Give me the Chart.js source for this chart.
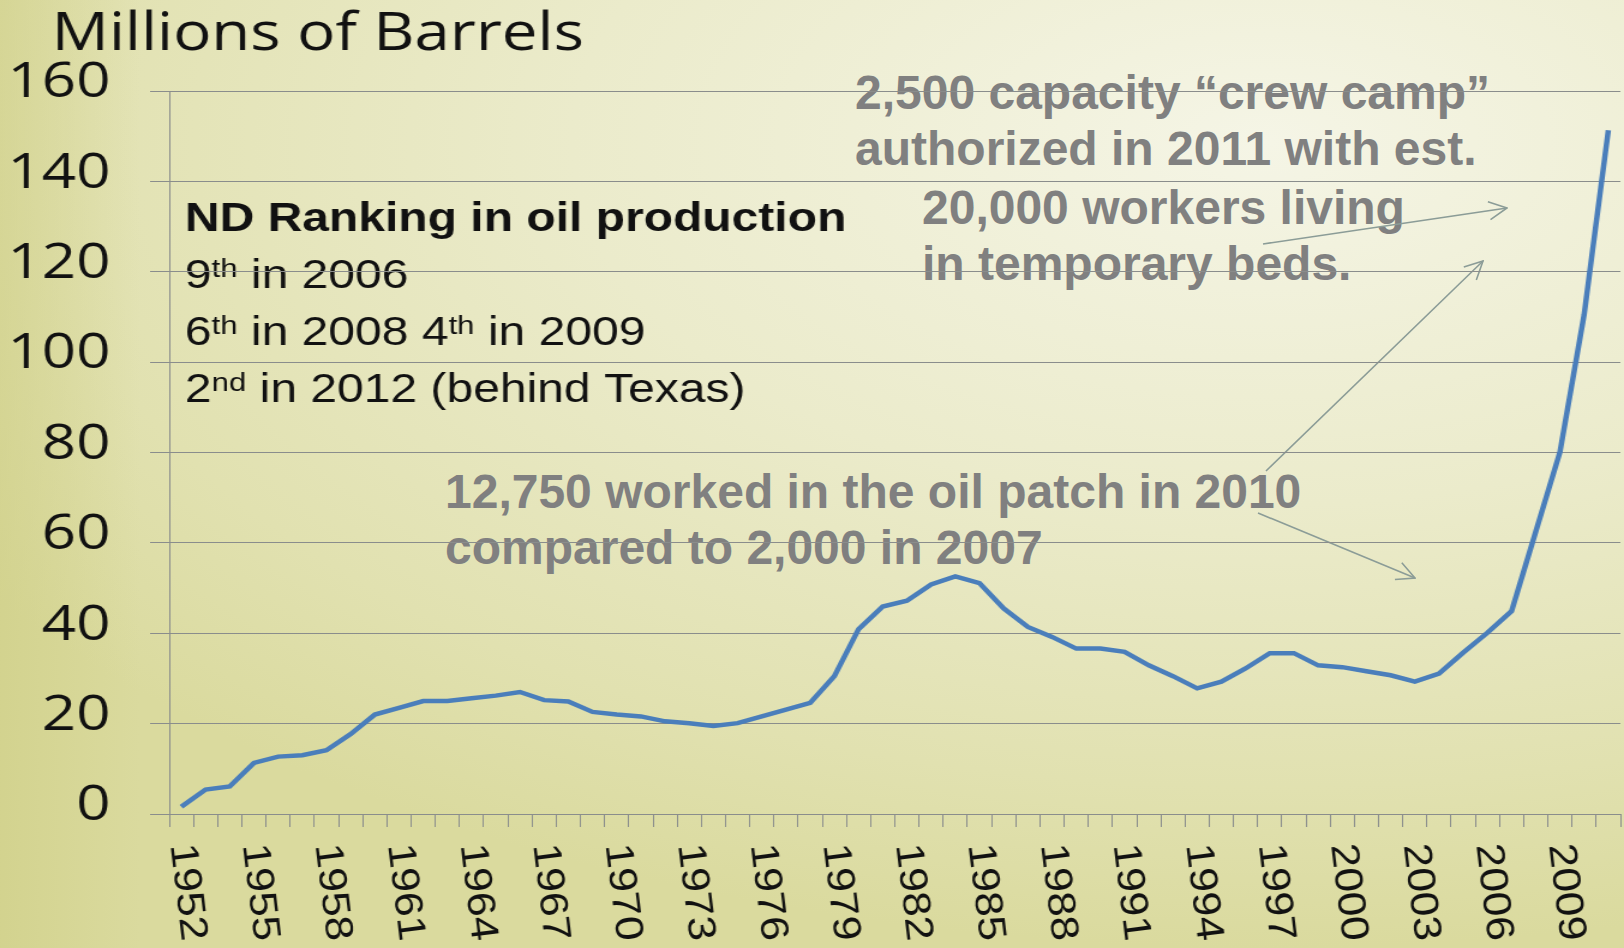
<!DOCTYPE html>
<html>
<head>
<meta charset="utf-8">
<script src="https://cdn.jsdelivr.net/npm/chart.js@4.4.1/dist/chart.umd.min.js"></script>
<style>
  html, body { margin: 0; padding: 0; }
  body {
    width: 1624px; height: 948px; overflow: hidden; position: relative;
    background:
      linear-gradient(to right, rgba(205,205,130,0.55) 0px, rgba(205,205,130,0) 140px),
      radial-gradient(ellipse 95% 85% at 78% 15%, #f5f5e6 0%, #ebebcb 45%, #e1e1b0 80%, #dada9e 100%);
  }
  .note {
    position: absolute; white-space: nowrap; z-index: 0;
    font: bold 48px "Liberation Sans", Arial, sans-serif;
    line-height: 56px; color: #808080;
  }
  #arrows { position: absolute; left: 0; top: 0; z-index: 0; }
  #wrap {
    position: absolute; left: 0; top: 0; z-index: 1;
    width: 1353px; height: 948px;
    transform: scaleX(1.2003); transform-origin: 0 0;
  }
</style>
</head>
<body>

<div class="note" style="left:855px; top:65px;">2,500 capacity “crew camp”<br>authorized in 2011 with est.</div>
<div class="note" style="left:922px; top:180px;">20,000 workers living<br>in temporary beds.</div>
<div class="note" style="left:445px; top:464px;">12,750 worked in the oil patch in 2010<br>compared to 2,000 in 2007</div>

<svg id="arrows" width="1624" height="948">
  <defs>
    <marker id="ah" viewBox="0 0 20 20" refX="19" refY="10" markerWidth="20" markerHeight="20"
            markerUnits="userSpaceOnUse" orient="auto">
      <path d="M1,1 L19,10 L1,19" fill="none" stroke="#8b9c97" stroke-width="1.6"/>
    </marker>
  </defs>
  <g stroke="#8b9c97" stroke-width="1.6" fill="none" marker-end="url(#ah)">
    <line x1="1263" y1="244" x2="1507" y2="208"/>
    <line x1="1266" y1="471" x2="1483" y2="261"/>
    <line x1="1258" y1="513" x2="1415" y2="578"/>
  </g>
</svg>

<div id="wrap"><canvas id="chart"></canvas></div>

<script>
// ND crude oil production, millions of barrels
const years = [
  1952, 1953, 1954, 1955, 1956, 1957, 1958, 1959, 1960, 1961,
  1962, 1963, 1964, 1965, 1966, 1967, 1968, 1969, 1970, 1971,
  1972, 1973, 1974, 1975, 1976, 1977, 1978, 1979, 1980, 1981,
  1982, 1983, 1984, 1985, 1986, 1987, 1988, 1989, 1990, 1991,
  1992, 1993, 1994, 1995, 1996, 1997, 1998, 1999, 2000, 2001,
  2002, 2003, 2004, 2005, 2006, 2007, 2008, 2009, 2010, 2011
];
const barrels = [
  1.6, 5.4, 6.1, 11.3, 12.7, 13.0, 14.1, 17.7, 22.0, 23.5,
  25.0, 25.0, 25.6, 26.2, 27.0, 25.2, 24.9, 22.6, 22.0, 21.6,
  20.5, 20.1, 19.5, 20.1, 21.6, 23.1, 24.6, 30.5, 40.9, 45.9,
  47.2, 50.8, 52.6, 51.1, 45.5, 41.4, 39.2, 36.6, 36.6, 35.9,
  32.9, 30.5, 27.8, 29.3, 32.2, 35.6, 35.6, 32.9, 32.5, 31.6,
  30.7, 29.3, 31.1, 35.7, 40.1, 44.9, 62.5, 80.1, 110.5, 151.3
];
const yMin = 0, yMax = 160, yStep = 20;
const labelEvery = 3;

const rankingLines = [
  [{ t: 'ND Ranking in oil production', bold: true }],
  [{ t: '9' }, { t: 'th', sup: true }, { t: ' in 2006' }],
  [{ t: '6' }, { t: 'th', sup: true }, { t: ' in 2008 4' }, { t: 'th', sup: true }, { t: ' in 2009' }],
  [{ t: '2' }, { t: 'nd', sup: true }, { t: ' in 2012 (behind Texas)' }]
];

const GRID = '#8a8d8c';
const SANS = '"Liberation Sans", Arial, sans-serif';
const STRETCH = 1.2003;   // the slide squeezed the chart picture sideways

// title + ranking text sit under the grid, like in the slide
const textPlugin = {
  id: 'slideText',
  beforeDraw(chart) {
    const ctx = chart.ctx;
    ctx.save();
    ctx.fillStyle = '#111';
    ctx.textBaseline = 'alphabetic';
    ctx.font = '53px "Open Sans", sans-serif';
    ctx.fillText('Millions of Barrels', 43, 50);

    const baselines = [231, 288, 345, 402];
    rankingLines.forEach((runs, i) => {
      let x = 154;
      runs.forEach(r => {
        if (r.sup) {
          ctx.font = '26px ' + SANS;
          ctx.fillText(r.t, x, baselines[i] - 11);
        } else {
          ctx.font = (r.bold ? 'bold ' : '') + '40px ' + SANS;
          ctx.fillText(r.t, x, baselines[i]);
        }
        x += ctx.measureText(r.t).width;
      });
    });
    ctx.restore();
  },
  // year labels run top-to-bottom under the axis, slightly tilted
  afterDraw(chart) {
    const ctx = chart.ctx, xs = chart.scales.x;
    const tilt = 7 * Math.PI / 180;
    const dx = Math.sin(tilt), dy = Math.cos(tilt);   // reading direction
    const ux = Math.cos(tilt), uy = -Math.sin(tilt);  // glyph "up"
    const sx = 1.1, sy = 0.98;
    ctx.save();
    ctx.fillStyle = '#111';
    ctx.font = '40px ' + SANS;
    ctx.textBaseline = 'alphabetic';
    years.forEach((yr, i) => {
      if (i % labelEvery) return;
      const px = xs.getPixelForValue(i);
      ctx.save();
      ctx.translate(px - 11 / STRETCH, 845);
      ctx.transform(sx * dx / STRETCH, sx * dy, -sy * ux / STRETCH, -sy * uy, 0, 0);
      ctx.fillText(String(yr), 0, 0);
      ctx.restore();
    });
    ctx.restore();
  }
};

new Chart(document.getElementById('chart').getContext('2d'), {
  type: 'line',
  data: {
    labels: years,
    datasets: [{
      data: barrels,
      borderColor: '#4a7ebb',
      borderWidth: 4.5,
      pointRadius: 0,
      tension: 0,
      fill: false
    }]
  },
  options: {
    responsive: true,
    maintainAspectRatio: false,
    animation: false,
    layout: { padding: { top: 91, right: 3, left: 0, bottom: 0 } },
    plugins: { legend: { display: false }, tooltip: { enabled: false } },
    scales: {
      x: {
        offset: true,
        grid: { offset: true, drawOnChartArea: false, drawTicks: true, tickLength: 13, color: GRID, lineWidth: 1 },
        border: { display: true, color: GRID, width: 1 },
        ticks: { display: false, autoSkip: false },
        afterFit: s => { s.height = 134; }
      },
      y: {
        min: yMin, max: yMax,
        grid: { color: GRID, lineWidth: 1, drawTicks: true, tickLength: 16 },
        border: { display: true, color: GRID, width: 1 },
        ticks: {
          stepSize: yStep, color: '#111', padding: 33, labelOffset: -8,
          font: { family: '"Open Sans", sans-serif', size: 50 }
        },
        afterFit: s => { s.width = 141; }
      }
    }
  },
  plugins: [textPlugin]
});
</script>
</body>
</html>
